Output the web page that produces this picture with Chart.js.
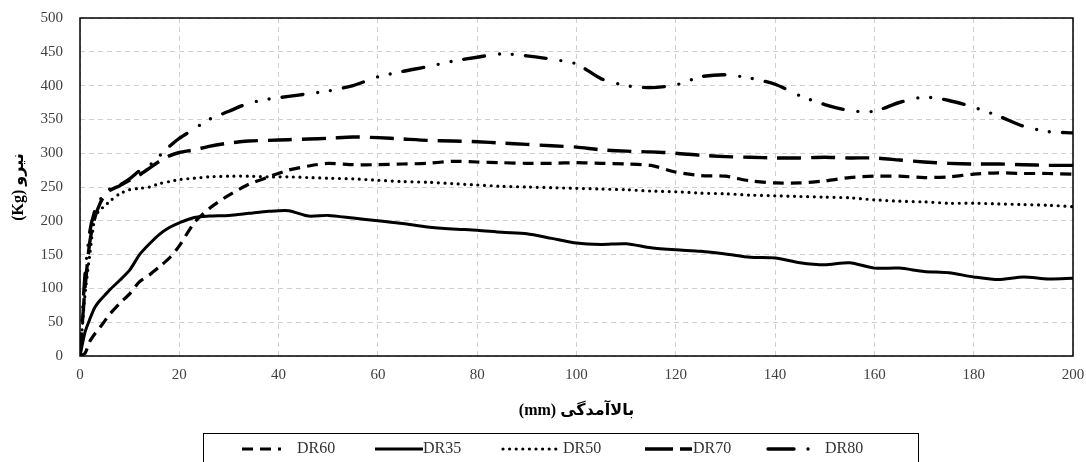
<!DOCTYPE html>
<html>
<head>
<meta charset="utf-8">
<script src="https://cdn.jsdelivr.net/npm/chart.js@4.4.1/dist/chart.umd.min.js"></script>
<style>
    html, body { margin: 0; padding: 0; background: #fff; }
    canvas { display: block; }
</style>
</head>
<body>
<canvas id="force-chart" width="1086" height="462"></canvas>
<script>
// displacement (mm), shared by all series
const displacement = [0, 1, 2, 3, 4, 5, 6, 8, 10, 12, 14, 16, 18, 20, 23, 26, 30, 34, 38, 42, 46, 50,
    55, 60, 65, 70, 75, 80, 85, 90, 95, 100, 105, 110, 115, 120, 125, 130, 135, 140, 145, 150,
    155, 160, 165, 170, 175, 180, 185, 190, 195, 200];

// force (Kg)
const dr60 = [0, 4, 22, 33, 42, 52, 62, 78, 92, 110, 120, 132, 145, 163, 197, 218, 238, 254, 265, 275, 281, 285,
    283, 283, 284, 285, 288, 287, 286, 285, 285, 286, 285, 284, 282, 272, 267, 266, 259, 256, 256, 259,
    264, 266, 266, 264, 265, 269, 271, 270, 270, 269];
const dr35 = [0, 35, 55, 72, 82, 90, 98, 112, 127, 150, 166, 180, 190, 197, 205, 207, 208, 211, 214, 215, 207, 208,
    204, 200, 196, 191, 188, 186, 183, 181, 174, 167, 165, 166, 160, 157, 155, 151, 146, 145, 138, 135,
    138, 130, 130, 125, 123, 117, 113, 117, 114, 115];
const dr50 = [0, 90, 152, 205, 216, 222, 229, 240, 246, 248, 250, 255, 258, 261, 263, 265, 266, 266, 265, 265, 264, 263,
    262, 260, 258, 257, 255, 253, 251, 250, 249, 248, 247, 246, 244, 243, 241, 240, 238, 237, 236, 235,
    234, 231, 229, 228, 226, 226, 225, 224, 223, 221];
const dr70 = [0, 100, 170, 205, 225, 238, 245, 252, 260, 268, 278, 288, 296, 301, 305, 310, 315, 318, 319, 320, 321, 322,
    324, 323, 321, 319, 318, 317, 315, 313, 311, 309, 305, 303, 302, 300, 297, 295, 294, 293, 293, 294,
    293, 293, 290, 287, 285, 284, 284, 283, 282, 282];
const dr80 = [0, 120, 185, 215, 230, 242, 247, 253, 262, 274, 282, 296, 310, 322, 336, 350, 362, 374, 380, 384, 388, 392,
    400, 413, 421, 428, 436, 442, 447, 444, 439, 432, 410, 400, 397, 401, 413, 416, 411, 402, 385, 372,
    363, 362, 375, 383, 378, 368, 355, 340, 332, 330];

const serif = "'Liberation Serif', 'Times New Roman', 'DejaVu Sans', serif";

function points(values) {
    return values.map((v, i) => ({ x: displacement[i], y: v }));
}

// keep the plot area where the layout padding puts it
function noLabelPadding(scale) {
    scale.paddingLeft = 0;
    scale.paddingRight = 0;
    scale.paddingTop = 0;
    scale.paddingBottom = 0;
}

// plot frame and boxed legend (the legend box runs off the bottom edge)
const framePlugin = {
    id: "frame",
    afterDraw(chart) {
        const ctx = chart.ctx;
        const a = chart.chartArea;
        ctx.save();
        ctx.strokeStyle = "#000";
        ctx.lineWidth = 1.5;
        ctx.setLineDash([]);
        ctx.strokeRect(a.left, a.top, a.right - a.left, a.bottom - a.top);

        ctx.lineWidth = 1;
        ctx.strokeRect(203.5, 433.5, 715, 40);

        const slots = [
            { x1: 242, x2: 281, tx: 297 },
            { x1: 375, x2: 423, tx: 423 },
            { x1: 503, x2: 556, tx: 563 },
            { x1: 645, x2: 692, tx: 693 },
            { x1: 768, x2: 810, tx: 825 },
        ];
        const y = 449;
        chart.data.datasets.forEach((ds, i) => {
            const s = slots[i];
            ctx.beginPath();
            ctx.strokeStyle = ds.borderColor;
            ctx.lineWidth = ds.borderWidth;
            ctx.lineCap = ds.borderCapStyle || "butt";
            ctx.setLineDash(ds.legendDash || ds.borderDash || []);
            ctx.moveTo(s.x1, y);
            ctx.lineTo(s.x2, y);
            ctx.stroke();
            ctx.setLineDash([]);
            ctx.fillStyle = "#333";
            ctx.font = "16px " + serif;
            ctx.textBaseline = "middle";
            ctx.textAlign = "left";
            ctx.fillText(ds.label, s.tx, y);
        });
        ctx.restore();
    },
};

const forceCtx = document.getElementById("force-chart");

let forceChart = new Chart(forceCtx, {
    type: "line",
    data: {
        datasets: [
            {
                label: "DR60",
                data: points(dr60),
                borderColor: "#000",
                borderWidth: 3.2,
                borderDash: [11, 7],
                legendDash: [11, 7],
            },
            {
                label: "DR35",
                data: points(dr35),
                borderColor: "#000",
                borderWidth: 3,
            },
            {
                label: "DR50",
                data: points(dr50),
                borderColor: "#000",
                borderWidth: 3.2,
                borderCapStyle: "round",
                borderDash: [0, 6.6],
            },
            {
                label: "DR70",
                data: points(dr70),
                borderColor: "#000",
                borderWidth: 3.4,
                borderDash: [24, 10],
                legendDash: [28, 7, 12, 100],
            },
            {
                label: "DR80",
                data: points(dr80),
                borderColor: "#000",
                borderWidth: 3.4,
                borderCapStyle: "round",
                borderDash: [21, 15, 0, 13, 0, 13],
                legendDash: [26, 14, 0, 100],
            },
        ],
    },
    options: {
        responsive: false,
        animation: false,
        elements: {
            point: { radius: 0 },
            line: { tension: 0.25, fill: false },
        },
        layout: {
            padding: { left: 0, right: 13, top: 18, bottom: 38 },
        },
        plugins: {
            legend: { display: false },
            tooltip: { enabled: false },
        },
        scales: {
            x: {
                type: "linear",
                min: 0,
                max: 200,
                afterFit(scale) {
                    scale.height = 68;
                    noLabelPadding(scale);
                },
                ticks: {
                    stepSize: 20,
                    color: "#404040",
                    padding: 10,
                    maxRotation: 0,
                    font: { family: serif, size: 15 },
                },
                grid: { color: "#cfcfcf", lineWidth: 1, drawTicks: false },
                border: { display: false, dash: [5, 4] },
                title: {
                    display: true,
                    text: "(mm) بالاآمدگی",
                    color: "#000",
                    font: { family: serif, size: 16, weight: "bold" },
                    padding: { top: 0, bottom: 4 },
                },
            },
            y: {
                type: "linear",
                min: 0,
                max: 500,
                afterFit(scale) {
                    scale.width = 80;
                    noLabelPadding(scale);
                },
                ticks: {
                    stepSize: 50,
                    color: "#404040",
                    padding: 17,
                    font: { family: serif, size: 15 },
                },
                grid: { color: "#cfcfcf", lineWidth: 1, drawTicks: false },
                border: { display: false, dash: [5, 4] },
                title: {
                    display: true,
                    text: "(Kg) نیرو",
                    color: "#000",
                    font: { family: serif, size: 16, weight: "bold" },
                    padding: { top: 9, bottom: 0 },
                },
            },
        },
    },
    plugins: [framePlugin],
});
</script>
</body>
</html>
